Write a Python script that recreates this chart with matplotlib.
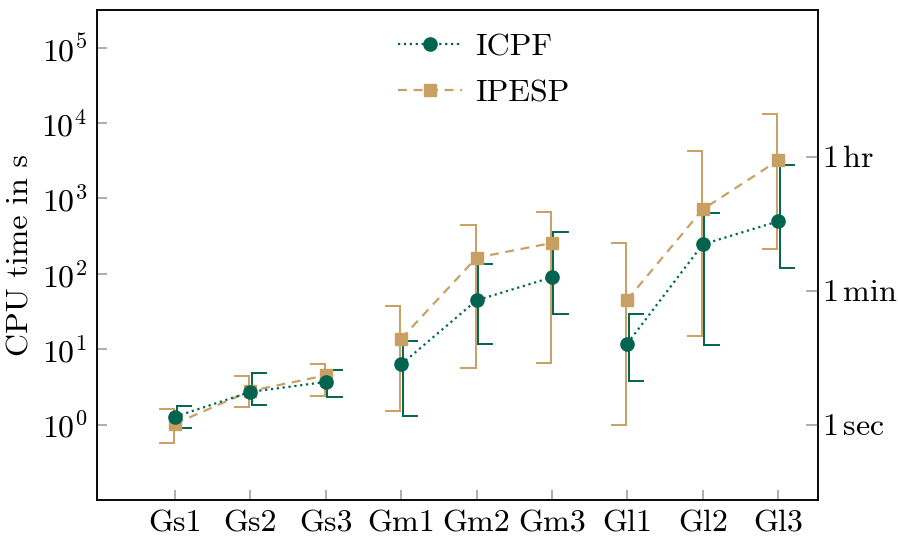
import matplotlib
matplotlib.use("Agg")
import matplotlib.pyplot as plt
from matplotlib.ticker import NullLocator, FixedLocator

plt.rcParams['font.family'] = 'serif'
plt.rcParams['font.serif'] = ['cmr10']
plt.rcParams['mathtext.fontset'] = 'cm'
plt.rcParams['axes.formatter.use_mathtext'] = True
plt.rcParams['font.size'] = 23

# data
instances = ['Gs1', 'Gs2', 'Gs3', 'Gm1', 'Gm2', 'Gm3', 'Gl1', 'Gl2', 'Gl3']
groups = [(0, 3), (3, 6), (6, 9)]  # small / medium / large, drawn separately

icpf_mean = [1.27, 2.72, 3.68, 6.3, 44.5, 90, 11.9, 246, 497]
icpf_low = [0.91, 1.84, 2.33, 1.32, 11.8, 29.6, 3.76, 11.3, 118]
icpf_high = [1.75, 4.9, 5.25, 12.9, 134, 359, 29.7, 642, 2806]

ipesp_mean = [1.03, 2.8, 4.5, 13.8, 164, 257, 45.5, 717, 3200]
ipesp_low = [0.57, 1.72, 2.37, 1.5, 5.65, 6.5, 0.98, 15.1, 214]
ipesp_high = [1.6, 4.43, 6.3, 37, 445, 654, 259, 4300, 13400]

time_ticks = [1, 60, 3600]
time_labels = [r'$1\,\mathrm{sec}$', r'$1\,\mathrm{min}$', r'$1\,\mathrm{hr}$']

green = '#00644f'
tan = '#c9a063'

fig = plt.figure(figsize=(8.98, 5.42), dpi=100)
ax = fig.add_axes([0.108, 0.0775, 0.803, 0.904])
x = list(range(len(instances)))


def half_errorbars(xs, lo, hi, color, shift, cap):
    # vertical bar plus one-sided caps
    for xi, l, h in zip(xs, lo, hi):
        xv = xi + shift
        ax.plot([xv, xv], [l, h], color=color, lw=1.4, zorder=2)
        ax.plot([xv, xv + cap], [l, l], color=color, lw=1.4, zorder=2)
        ax.plot([xv, xv + cap], [h, h], color=color, lw=1.4, zorder=2)


half_errorbars(x, ipesp_low, ipesp_high, tan, -0.012, -0.19)
half_errorbars(x, icpf_low, icpf_high, green, 0.02, 0.19)

for k, (a, b) in enumerate(groups):
    ax.plot(x[a:b], icpf_mean[a:b], color=green, ls=':', lw=1.6, marker='o',
            ms=9.5, label='ICPF' if k == 0 else None, zorder=4)
    ax.plot(x[a:b], ipesp_mean[a:b], color=tan, ls=(0, (4, 3)), lw=1.6,
            marker='s', ms=8, label='IPESP' if k == 0 else None, zorder=3)

ax.set_yscale('log')
ax.set_ylim(1e-1, 10 ** 5.5)
ax.set_xlim(-1.035, 8.53)
ax.set_xticks(x)
ax.set_xticklabels(instances)
ax.yaxis.set_major_locator(FixedLocator([1, 10, 100, 1e3, 1e4, 1e5]))
ax.yaxis.set_minor_locator(NullLocator())
ax.set_ylabel('CPU time in s', labelpad=5)
ax.tick_params(axis='both', direction='in', color='#a0a0a0', width=1.2,
               length=7.5, pad=7)
ax.tick_params(axis='y', right=False)
for s in ax.spines.values():
    s.set_linewidth(1.1)

ax2 = ax.twinx()
ax2.set_yscale('log')
ax2.set_ylim(ax.get_ylim())
ax2.yaxis.set_major_locator(FixedLocator(time_ticks))
ax2.yaxis.set_minor_locator(NullLocator())
ax2.set_yticklabels(time_labels)
ax2.tick_params(axis='y', direction='in', color='#a0a0a0', width=1.2,
                length=9, pad=3)
for s in ax2.spines.values():
    s.set_linewidth(1.1)

ax.legend(loc='upper left', bbox_to_anchor=(0.418, 0.953), frameon=False,
          handlelength=2.0, handletextpad=0.4, labelspacing=0.55,
          borderpad=0, borderaxespad=0)

fig.savefig('out.png', dpi=100)
